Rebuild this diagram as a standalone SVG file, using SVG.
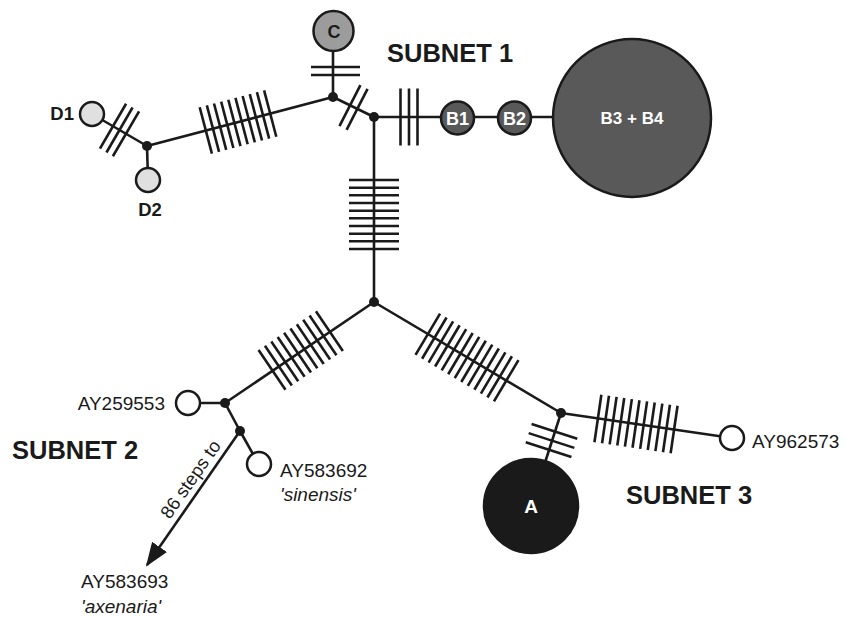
<svg xmlns="http://www.w3.org/2000/svg" width="845" height="617" viewBox="0 0 845 617">
<style>
  .ln { stroke:#1a1a1a; stroke-width:2.6; fill:none; }
  .h line { stroke:#1a1a1a; stroke-width:2.6; }
  .ci { stroke:#1a1a1a; stroke-width:2.5; }
  .jn { fill:#1a1a1a; }
  .t { font-family:"Liberation Sans", Arial, sans-serif; fill:#1a1a1a; }
  .lb { font-size:19px; }
  .it { font-style:italic; }
  .bd { font-weight:bold; }
  .sub { font-size:25.5px; font-weight:bold; }
  .wt { fill:#ffffff; font-weight:bold; text-anchor:middle; }
</style>
<defs>
  <marker id="arrow" markerUnits="userSpaceOnUse" viewBox="0 0 24 18" markerWidth="24" markerHeight="18" refX="22" refY="9" orient="auto">
    <path d="M0,0 L24,9 L0,18 z" fill="#1a1a1a"/>
  </marker>
</defs>
<rect width="845" height="617" fill="#ffffff"/>

<g id="connectors">
  <line class="ln" x1="92" y1="114" x2="147" y2="146"/>
  <line class="ln" x1="147" y1="146" x2="148" y2="180"/>
  <line class="ln" x1="147" y1="146" x2="333" y2="97"/>
  <line class="ln" x1="333" y1="31" x2="333" y2="97"/>
  <line class="ln" x1="333" y1="97" x2="374" y2="117"/>
  <line class="ln" x1="374" y1="117" x2="632" y2="117"/>
  <line class="ln" x1="374" y1="117" x2="374" y2="302"/>
  <line class="ln" x1="374" y1="302" x2="225" y2="403"/>
  <line class="ln" x1="188" y1="403" x2="225" y2="403"/>
  <line class="ln" x1="225" y1="403" x2="240" y2="431"/>
  <line class="ln" x1="240" y1="431" x2="258" y2="463"/>
  <line class="ln" x1="374" y1="302" x2="561" y2="413"/>
  <line class="ln" x1="561" y1="413" x2="732" y2="438"/>
  <line class="ln" x1="561" y1="413" x2="531" y2="506"/>
  <line class="ln" x1="240" y1="431" x2="147" y2="565" marker-end="url(#arrow)"/>

  <g class="h" transform="translate(119.5,130) rotate(30.2)">
    <line x1="-7.5" y1="-26" x2="-7.5" y2="26"/>
    <line x1="0" y1="-26" x2="0" y2="26"/>
    <line x1="7.5" y1="-26" x2="7.5" y2="26"/>
  </g>
  <g class="h" transform="translate(238,122) rotate(-14.76)">
    <line x1="-33.3" y1="-24" x2="-33.3" y2="24"/>
    <line x1="-25.9" y1="-24" x2="-25.9" y2="24"/>
    <line x1="-18.5" y1="-24" x2="-18.5" y2="24"/>
    <line x1="-11.1" y1="-24" x2="-11.1" y2="24"/>
    <line x1="-3.7" y1="-24" x2="-3.7" y2="24"/>
    <line x1="3.7" y1="-24" x2="3.7" y2="24"/>
    <line x1="11.1" y1="-24" x2="11.1" y2="24"/>
    <line x1="18.5" y1="-24" x2="18.5" y2="24"/>
    <line x1="25.9" y1="-24" x2="25.9" y2="24"/>
    <line x1="33.3" y1="-24" x2="33.3" y2="24"/>
  </g>
  <g class="h">
    <line x1="311" y1="67" x2="360" y2="67"/>
    <line x1="311" y1="75" x2="360" y2="75"/>
  </g>
  <g class="h" transform="translate(353.5,107.5) rotate(27.1)">
    <line x1="-4" y1="-23" x2="-4" y2="23"/>
    <line x1="4" y1="-23" x2="4" y2="23"/>
  </g>
  <g class="h">
    <line x1="400.5" y1="88.5" x2="400.5" y2="145.5"/>
    <line x1="409" y1="88.5" x2="409" y2="145.5"/>
    <line x1="417.5" y1="88.5" x2="417.5" y2="145.5"/>
  </g>
  <g class="h">
    <line x1="349" y1="180" x2="399" y2="180"/>
    <line x1="349" y1="187.7" x2="399" y2="187.7"/>
    <line x1="349" y1="195.3" x2="399" y2="195.3"/>
    <line x1="349" y1="203" x2="399" y2="203"/>
    <line x1="349" y1="210.7" x2="399" y2="210.7"/>
    <line x1="349" y1="218.3" x2="399" y2="218.3"/>
    <line x1="349" y1="226" x2="399" y2="226"/>
    <line x1="349" y1="233.7" x2="399" y2="233.7"/>
    <line x1="349" y1="241.3" x2="399" y2="241.3"/>
    <line x1="349" y1="249" x2="399" y2="249"/>
  </g>
  <g class="h" transform="translate(300.7,350.5) rotate(-34.1)">
    <line x1="-34.65" y1="-24" x2="-34.65" y2="24"/>
    <line x1="-26.95" y1="-24" x2="-26.95" y2="24"/>
    <line x1="-19.25" y1="-24" x2="-19.25" y2="24"/>
    <line x1="-11.55" y1="-24" x2="-11.55" y2="24"/>
    <line x1="-3.85" y1="-24" x2="-3.85" y2="24"/>
    <line x1="3.85" y1="-24" x2="3.85" y2="24"/>
    <line x1="11.55" y1="-24" x2="11.55" y2="24"/>
    <line x1="19.25" y1="-24" x2="19.25" y2="24"/>
    <line x1="26.95" y1="-24" x2="26.95" y2="24"/>
    <line x1="34.65" y1="-24" x2="34.65" y2="24"/>
  </g>
  <g class="h" transform="translate(467,357.5) rotate(30.7)">
    <line x1="-45.6" y1="-24" x2="-45.6" y2="24"/>
    <line x1="-38" y1="-24" x2="-38" y2="24"/>
    <line x1="-30.4" y1="-24" x2="-30.4" y2="24"/>
    <line x1="-22.8" y1="-24" x2="-22.8" y2="24"/>
    <line x1="-15.2" y1="-24" x2="-15.2" y2="24"/>
    <line x1="-7.6" y1="-24" x2="-7.6" y2="24"/>
    <line x1="0" y1="-24" x2="0" y2="24"/>
    <line x1="7.6" y1="-24" x2="7.6" y2="24"/>
    <line x1="15.2" y1="-24" x2="15.2" y2="24"/>
    <line x1="22.8" y1="-24" x2="22.8" y2="24"/>
    <line x1="30.4" y1="-24" x2="30.4" y2="24"/>
    <line x1="38" y1="-24" x2="38" y2="24"/>
    <line x1="45.6" y1="-24" x2="45.6" y2="24"/>
  </g>
  <g class="h" transform="translate(636,424) rotate(8.3)">
    <line x1="-38.5" y1="-24" x2="-38.5" y2="24"/>
    <line x1="-30.8" y1="-24" x2="-30.8" y2="24"/>
    <line x1="-23.1" y1="-24" x2="-23.1" y2="24"/>
    <line x1="-15.4" y1="-24" x2="-15.4" y2="24"/>
    <line x1="-7.7" y1="-24" x2="-7.7" y2="24"/>
    <line x1="0" y1="-24" x2="0" y2="24"/>
    <line x1="7.7" y1="-24" x2="7.7" y2="24"/>
    <line x1="15.4" y1="-24" x2="15.4" y2="24"/>
    <line x1="23.1" y1="-24" x2="23.1" y2="24"/>
    <line x1="30.8" y1="-24" x2="30.8" y2="24"/>
    <line x1="38.5" y1="-24" x2="38.5" y2="24"/>
  </g>
  <g class="h" transform="translate(551.5,440.5) rotate(107.9)">
    <line x1="-9.5" y1="-24" x2="-9.5" y2="24"/>
    <line x1="0" y1="-24" x2="0" y2="24"/>
    <line x1="9.5" y1="-24" x2="9.5" y2="24"/>
  </g>
  <text class="t" font-size="18.5" text-anchor="middle" transform="translate(201.5,487) rotate(-55)" x="0" y="-7">86 steps to</text>
</g>

<g id="junctions">
  <circle class="jn" cx="147" cy="146" r="5"/>
  <circle class="jn" cx="333" cy="97" r="5"/>
  <circle class="jn" cx="374" cy="117" r="5"/>
  <circle class="jn" cx="374" cy="302" r="5"/>
  <circle class="jn" cx="225" cy="403" r="5"/>
  <circle class="jn" cx="240" cy="431" r="5"/>
  <circle class="jn" cx="561" cy="413" r="5"/>
</g>

<g id="node-D1">
  <circle class="ci" cx="92" cy="114" r="12" fill="#e0e0e0"/>
  <text class="t bd" font-size="18.5" x="74" y="120" text-anchor="end">D1</text>
</g>
<g id="node-D2">
  <circle class="ci" cx="148" cy="180" r="12" fill="#e0e0e0"/>
  <text class="t bd" font-size="18.5" x="150" y="216" text-anchor="middle">D2</text>
</g>
<g id="node-C">
  <circle class="ci" cx="333.5" cy="31" r="20" fill="#9c9c9c"/>
  <text class="t bd" font-size="18" x="334" y="37.5" text-anchor="middle">C</text>
</g>
<g id="node-B1">
  <circle class="ci" cx="457.5" cy="118" r="16.5" fill="#595959"/>
  <text class="t wt" font-size="18" x="457.5" y="124.5">B1</text>
</g>
<g id="node-B2">
  <circle class="ci" cx="514.5" cy="118" r="16.5" fill="#595959"/>
  <text class="t wt" font-size="18" x="514.5" y="124.5">B2</text>
</g>
<g id="node-B3B4">
  <circle class="ci" cx="632" cy="118" r="79" fill="#595959"/>
  <text class="t wt" font-size="17" x="632" y="124">B3 + B4</text>
</g>
<g id="node-A">
  <circle class="ci" cx="531" cy="506" r="47" fill="#1a1a1a"/>
  <text class="t wt" font-size="19" x="531" y="513">A</text>
</g>
<g id="node-AY259553">
  <circle class="ci" cx="188" cy="403" r="12" fill="#ffffff"/>
  <text class="t lb" x="165" y="409.5" text-anchor="end">AY259553</text>
</g>
<g id="node-AY583692">
  <circle class="ci" cx="259" cy="464" r="12" fill="#ffffff"/>
  <text class="t lb" x="280" y="477">AY583692</text>
  <text class="t lb it" x="280" y="501">'sinensis'</text>
</g>
<g id="node-AY962573">
  <circle class="ci" cx="732" cy="438" r="12" fill="#ffffff"/>
  <text class="t lb" x="752" y="448">AY962573</text>
</g>
<g id="node-AY583693">
  <text class="t lb" x="81" y="588">AY583693</text>
  <text class="t lb it" x="81" y="613">'axenaria'</text>
</g>

<g id="subnet-labels">
  <text class="t sub" x="387" y="62">SUBNET 1</text>
  <text class="t sub" x="12" y="458.5">SUBNET 2</text>
  <text class="t sub" x="626" y="503.5">SUBNET 3</text>
</g>
</svg>
